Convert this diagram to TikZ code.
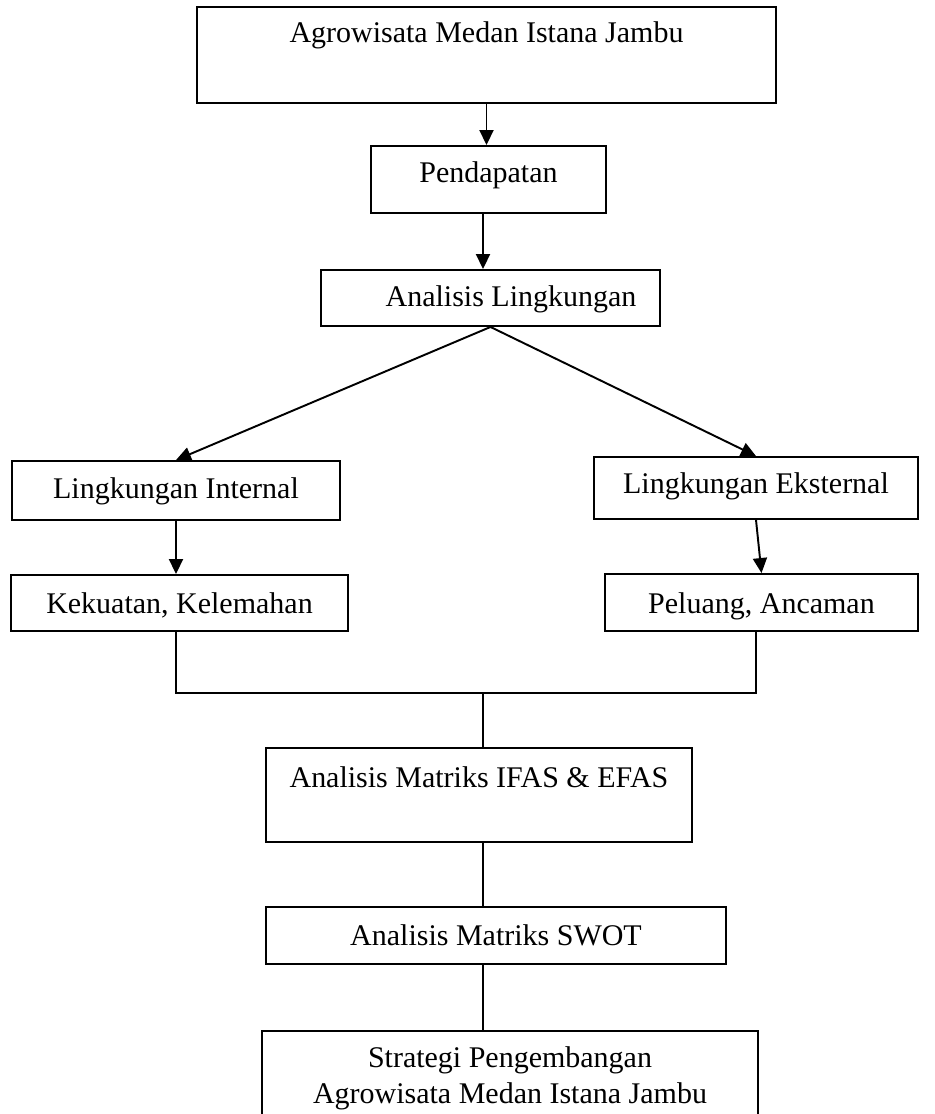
\documentclass[tikz,border=0pt]{standalone}
\usepackage{fontspec}
\setmainfont{Liberation Serif}
\usetikzlibrary{arrows.meta}

\begin{document}
\begin{tikzpicture}[x=0.02cm, y=-0.02cm,
        box/.style={draw, line width=1.1pt, inner sep=0pt, anchor=base,
            font=\fontsize{17.07pt}{20.5pt}\selectfont},
        arr/.style={-{Triangle[length=0.3cm, width=0.28cm]}, line width=1.1pt},
        link/.style={line width=1.1pt}]
        \useasboundingbox (0,0) rectangle (935,1114);

        \node[box, minimum width=11.58cm, text height=0.72cm, text depth=1.2cm] (agro) at (486.5,43) {Agrowisata Medan Istana Jambu};
        \node[box, minimum width=4.7cm, text height=0.74cm, text depth=0.6cm] (pend) at (488.5,183) {Pendapatan};
        \node[box, minimum width=6.78cm, text height=0.74cm, text depth=0.38cm] (anl) at (490.5,307) {\hspace*{0.82cm}Analisis Lingkungan};

        \node[box, minimum width=6.56cm, text height=0.74cm, text depth=0.44cm] (intl) at (176,498) {Lingkungan Internal};
        \node[box, minimum width=6.48cm, text height=0.72cm, text depth=0.52cm] (eks) at (756,493) {Lingkungan Eksternal};
        \node[box, minimum width=6.74cm, text height=0.76cm, text depth=0.36cm] (kek) at (179.5,613) {Kekuatan, Kelemahan};
        \node[box, minimum width=6.26cm, text height=0.78cm, text depth=0.36cm] (pel) at (761.5,613) {Peluang, Ancaman};

        \node[box, minimum width=8.52cm, text height=0.78cm, text depth=1.1cm] (ifas) at (479,787) {Analisis Matriks IFAS \& EFAS};
        \node[box, minimum width=9.2cm, text height=0.76cm, text depth=0.38cm] (swot) at (496,945) {Analisis Matriks SWOT};
        \node[box, align=center, anchor=north, minimum width=9.92cm, text height=1.46cm, text depth=0.4cm] (strat) at (510,1030) {Strategi Pengembangan\\Agrowisata Medan Istana Jambu};

        \coordinate (join) at (483,693);

        \draw[arr] (agro.south) -- (agro.south |- pend.north);
        \draw[arr] (join |- pend.south) -- (join |- anl.north);
        \draw[arr] (anl.south) -- (intl.north);
        \draw[arr] (anl.south) -- (eks.north);
        \draw[arr] (intl.south) -- (intl.south |- kek.north);
        \draw[arr] (eks.south) -- (pel.north);

        \draw[link] (intl.south |- kek.south) -- (intl.south |- join) -- (eks.south |- join) -- (eks.south |- pel.south);
        \draw[link] (join) -- (join |- ifas.north);
        \draw[link] (join |- ifas.south) -- (join |- swot.north);
        \draw[link] (join |- swot.south) -- (join |- strat.north);
    \end{tikzpicture}
\end{document}
